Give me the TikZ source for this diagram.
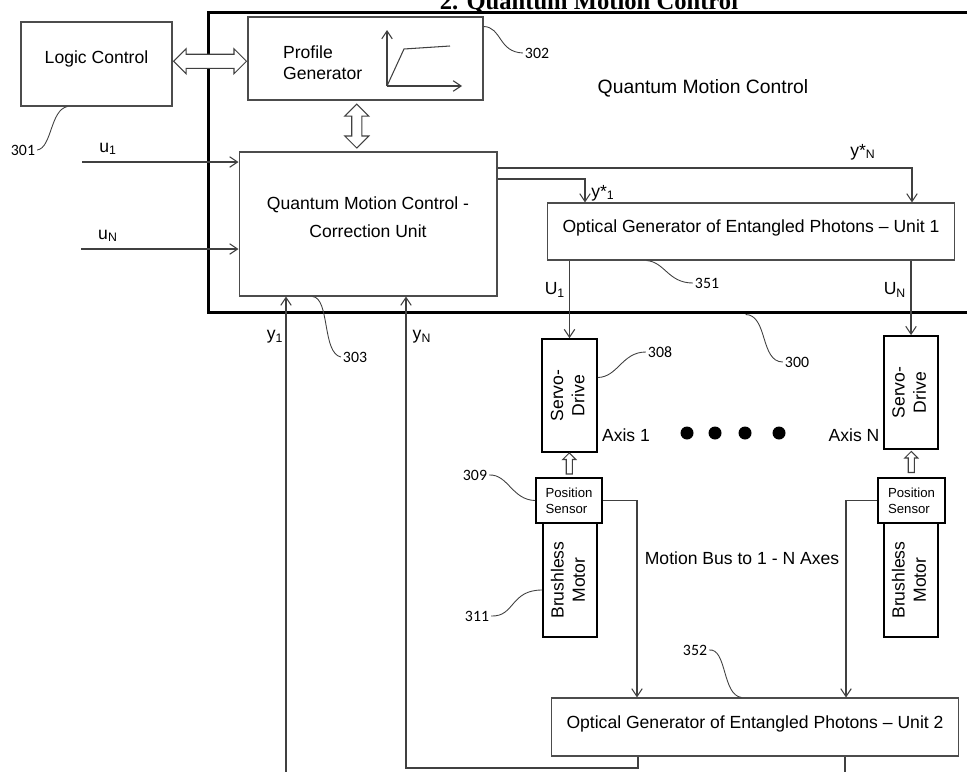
\documentclass[tikz,border=0pt]{standalone}
\usepackage{fontspec}
\setmainfont{Liberation Sans}
\newfontfamily\numfont{Carlito}
\newfontfamily\titlefont{Liberation Serif}
\usepackage{tikz}
\usetikzlibrary{calc, positioning, shapes.arrows, arrows.meta}

% Text set sideways in the narrow axis boxes
\newcommand{\sidetext}[1]{\rotatebox{90}{\begin{tabular}{@{}c@{}}#1\end{tabular}}}

\tikzset{
    box/.style={draw=black!70, line width=0.6pt, inner sep=0pt, align=center, font=\fontsize{10}{13}\selectfont},
    axisbox/.style={draw=black, line width=1pt, inner sep=0pt, align=center, font=\fontsize{10}{12}\selectfont},
    wire/.style={draw=black!75, line width=0.6pt},
    lead/.style={draw=black!75, line width=0.5pt},
    refnum/.style={font=\numfont\fontsize{9}{11}\selectfont, inner sep=1pt},
    sig/.style={font=\fontsize{10}{12}\selectfont, inner sep=1pt},
    hollow/.style={draw=black!75, line width=0.6pt, fill=white},
}

\begin{document}
\begin{tikzpicture}[x=0.02cm, y=-0.02cm, >={Straight Barb[length=4.5pt,width=6pt]}]

    \useasboundingbox (0,0) rectangle (967,771);

    % =================================================================
    % 1. TITLE AND THE OUTER QUANTUM MOTION CONTROL FRAME (300)
    % =================================================================
    \node[font=\titlefont\bfseries\fontsize{14}{16}\selectfont, anchor=base] (title) at (589,9) {2. Quantum Motion Control};

    \node[draw, line width=1.7pt, inner sep=0pt, minimum width=15.54cm, minimum height=6.02cm] (qmc) at (596.5,162.5) {};
    \node[font=\fontsize{11}{13}\selectfont] (qmclbl) at (703,88) {Quantum Motion Control};

    % =================================================================
    % 2. BLOCKS: LOGIC, PROFILE, CORRECTION UNIT, OPTICAL GENERATORS
    % =================================================================
    \node[box, minimum width=3.02cm, minimum height=1.68cm,
          label={[sig, yshift=2.8pt]center:Logic Control}] (logic) at (96.5,64) {};

    \node[box, minimum width=4.70cm, minimum height=1.66cm] (profile) at (365.5,58.5) {};
    \node[sig, anchor=west, align=left] (profiletxt) at (281,63) {Profile\\Generator};

    % small velocity profile sketch
    \coordinate (graphorigin) at (387,86);
    \draw[wire, ->] (graphorigin) -- (387,30);
    \draw[wire, ->] (graphorigin) -- (462,86);
    \draw[wire] (graphorigin) -- (404,49) -- (450,46);

    \node[box, minimum width=5.16cm, minimum height=2.88cm,
          label={[sig, font=\fontsize{10}{16}\selectfont, align=center, yshift=4pt]center:{Quantum Motion Control -\\Correction Unit}}] (corr) at (368,224) {};

    \node[box, minimum width=8.16cm, minimum height=1.14cm,
          label={[sig, yshift=2.3pt]center:Optical Generator of Entangled Photons – Unit 1}] (unit1) at (751,231.5) {};
    \node[box, minimum width=8.16cm, minimum height=1.16cm,
          label={[sig, yshift=1.7pt]center:Optical Generator of Entangled Photons – Unit 2}] (unit2) at (755,727) {};

    % =================================================================
    % 3. AXIS 1 AND AXIS N (SERVO-DRIVE, POSITION SENSOR, MOTOR)
    % =================================================================
    \node[axisbox, minimum width=1.10cm, minimum height=2.26cm] (servo1) at (569.5,395.5) {\sidetext{Servo-\\Drive}};
    \node[axisbox, font=\fontsize{7.5}{9}\selectfont, align=left, minimum width=1.32cm, minimum height=0.9cm] (sensor1) at (569,500.5) {Position\\Sensor};
    \node[axisbox, minimum width=1.08cm, minimum height=2.28cm] (motor1) at (570,580) {\sidetext{Brushless\\Motor}};

    \node[axisbox, minimum width=1.08cm, minimum height=2.26cm] (servoN) at (911,392.5) {\sidetext{Servo-\\Drive}};
    \node[axisbox, font=\fontsize{7.5}{9}\selectfont, align=left, minimum width=1.34cm, minimum height=0.9cm] (sensorN) at (911.5,500.5) {Position\\Sensor};
    \node[axisbox, minimum width=1.08cm, minimum height=2.28cm] (motorN) at (911,580) {\sidetext{Brushless\\Motor}};

    \node[sig] (axis1) at (626,435) {Axis 1};
    \node[sig] (axisN) at (854,435) {Axis N};
    \foreach \dx in {687,715,745,779}
        \fill (\dx,433) circle (0.13cm);

    % =================================================================
    % 4. HOLLOW ARROWS
    % =================================================================
    \node[double arrow, hollow, inner sep=0.13cm, minimum height=1.46cm, double arrow head extend=0.11cm] (linkarrow) at ($(logic.east)!0.5!(profile.west)$) {};
    \node[double arrow, hollow, shape border rotate=90, inner sep=0.09cm, minimum height=0.88cm, double arrow head extend=0.14cm] (profarrow) at ($(profile.south)!0.5!(corr.north)+(-10,0)$) {};
    \node[single arrow, hollow, shape border rotate=90, inner sep=0.05cm, minimum height=0.42cm, single arrow head extend=0.07cm] (feed1) at ($(sensor1.north)!0.5!(servo1.south)$) {};
    \node[single arrow, hollow, shape border rotate=90, inner sep=0.05cm, minimum height=0.42cm, single arrow head extend=0.07cm] (feedN) at ($(sensorN.north)!0.5!(servoN.south)$) {};

    % =================================================================
    % 5. SIGNAL LINES
    % =================================================================
    \coordinate (u1start) at (82,162);
    \coordinate (uNstart) at (81,249);
    \draw[wire, ->] (u1start) -- (u1start -| corr.west);
    \draw[wire, ->] (uNstart) -- (uNstart -| corr.west);
    \node[sig] (u1lbl) at (108,149) {u\textsubscript{1}};
    \node[sig] (uNlbl) at (108,236) {u\textsubscript{N}};

    \coordinate (ystarNturn) at (912,168);
    \coordinate (ystar1turn) at (585,179);
    \draw[wire, ->] (ystarNturn -| corr.east) -- (ystarNturn) -- (ystarNturn |- unit1.north);
    \draw[wire, ->] (ystar1turn -| corr.east) -- (ystar1turn) -- (ystar1turn |- unit1.north);
    \node[sig] (ystarNlbl) at (863,152) {y*\textsubscript{N}};
    \node[sig] (ystar1lbl) at (603,193) {y*\textsubscript{1}};

    \draw[wire, ->] (servo1.north |- unit1.south) -- (servo1.north);
    \draw[wire, ->] (servoN.north |- unit1.south) -- (servoN.north);
    \node[sig] (U1lbl) at (555,290) {U\textsubscript{1}};
    \node[sig] (UNlbl) at (895,290) {U\textsubscript{N}};

    % motion bus down to unit 2
    \coordinate (bus1) at (637,0);
    \coordinate (busN) at (846,0);
    \draw[wire, ->] (sensor1.east) -- (sensor1.east -| bus1) -- (bus1 |- unit2.north);
    \draw[wire, ->] (sensorN.west) -- (sensorN.west -| busN) -- (busN |- unit2.north);
    \node[sig] (buslbl) at (742,558) {Motion Bus to 1 - N Axes};

    % feedback y1 .. yN back to the correction unit
    \coordinate (fbbottom) at (0,768);
    \coordinate (fbN) at (406,0);
    \coordinate (fbdrop) at (638,0);
    \coordinate (fb1) at (286,790);
    \coordinate (fbout) at (845,790);
    \draw[wire, ->] (fbdrop |- unit2.south) -- (fbdrop |- fbbottom) -- (fbN |- fbbottom) -- (fbN |- corr.south);
    \draw[wire, ->] (fb1) -- (fb1 |- corr.south);
    \draw[wire] (fbout |- unit2.south) -- (fbout);
    \node[sig] (y1lbl) at (275,337) {y\textsubscript{1}};
    \node[sig] (yNlbl) at (422,337) {y\textsubscript{N}};

    % =================================================================
    % 6. REFERENCE NUMBERS WITH LEADER CURVES
    % =================================================================
    \node[refnum] (n301) at (23,150) {301};
    \draw[lead] (n301.east) .. controls (52,148) and (50,110) .. ($(logic.south west)+(47,0)$);

    \node[refnum] (n302) at (537,53) {302};
    \draw[lead] ($(profile.north east)+(0,10)$) .. controls (502,27) and (498,52) .. (n302.west);

    \node[refnum] (n303) at (355,357) {303};
    \draw[lead] ($(corr.south west)+(74,0)$) .. controls (330,298) and (322,353) .. (n303.west);

    \node[refnum] (n351) at (707,283) {351};
    \draw[lead] ($(unit1.south west)+(100,0)$) .. controls (665,262) and (668,283) .. (n351.west);

    \node[refnum] (n300) at (797,362) {300};
    \draw[lead] ($(qmc.south west)+(539,0)$) .. controls (768,315) and (760,362) .. (n300.west);

    \node[refnum] (n308) at (660,352) {308};
    \draw[lead] ($(servo1.east)+(0,-18)$) .. controls (618,377) and (622,352) .. (n308.west);

    \node[refnum] (n309) at (475,475) {309};
    \draw[lead] (n309.east) .. controls (508,474) and (512,500) .. (sensor1.west);

    \node[refnum] (n311) at (477,616) {311};
    \draw[lead] (n311.east) .. controls (515,617) and (510,590) .. ($(motor1.west)+(0,10)$);

    \node[refnum] (n352) at (695,650) {352};
    \draw[lead] (n352.east) .. controls (727,648) and (722,695) .. ($(unit2.north west)+(191,0)$);

\end{tikzpicture}
\end{document}
